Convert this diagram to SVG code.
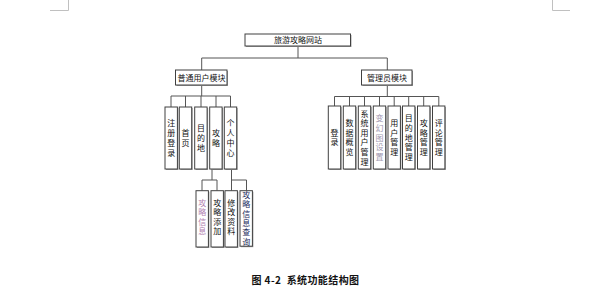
<svg xmlns="http://www.w3.org/2000/svg" width="598" height="300" viewBox="0 0 598 300">
<style>
.bx{fill:#fff;stroke:#404040;stroke-width:1}
.sh{fill:#a0a0a0}
.t{font-family:"Noto Sans CJK SC","Liberation Sans",sans-serif;font-size:8px;fill:#111;text-anchor:middle}
.ln{fill:none;stroke:#555;stroke-width:1}
.mk{fill:none;stroke:#c0c0c0;stroke-width:1}
.cap{font-family:"Noto Sans CJK SC","Liberation Sans",sans-serif;font-size:10px;fill:#111;text-anchor:middle;font-weight:bold;letter-spacing:0.4px}
</style>
<rect width="598" height="300" fill="#fff"/>
<g id="marks">
<path class="mk" d="M68.5 0V10.5H50M552.5 0V10.5H570"/>
</g>
<g id="connectors">
<path class="ln" d="M298 46V58M201.7 58H387.3M201.7 58V70M387.3 58V70"/>
<path class="ln" d="M201.7 85V96M171 96H230.5M171 96V107M185.5 96V107M201 96V107M216 96V107M230.5 96V107"/>
<path class="ln" d="M387.3 85V96.5M334.5 96.5H438.8M334.5 96.5V106M349.5 96.5V106M364.5 96.5V106M379.5 96.5V106M394.2 96.5V106M408.7 96.5V106M423.7 96.5V106M438.8 96.5V106"/>
<path class="ln" d="M212 169V180M202 180H217M202 180V190.7M217 180V190.7"/>
<path class="ln" d="M231.5 169V180H246.5M231.5 180V190.7M246.5 180V190.7"/>
</g>
<g id="root">
<rect class="sh" x="246" y="35" width="105.5" height="12"/>
<rect class="bx" x="245" y="34" width="105.5" height="12"/>
<text class="t" x="298" y="43">旅游攻略网站</text>
</g>
<g id="user">
<rect class="sh" x="176.5" y="71" width="51.5" height="15"/>
<rect class="bx" x="175.5" y="70" width="51.5" height="15"/>
<text class="t" x="201.5" y="80.5">普通用户模块</text>
</g>
<g id="admin">
<rect class="sh" x="362.5" y="71" width="50.5" height="15"/>
<rect class="bx" x="361.5" y="70" width="50.5" height="15"/>
<text class="t" x="387" y="80.5">管理员模块</text>
</g>
<g id="u1">
<rect class="sh" x="166" y="108" width="12.4" height="62"/>
<rect class="bx" x="165" y="107" width="12.4" height="62"/>
<text class="t" x="171.2 171.2 171.2 171.2" y="126 136 146 156">注册登录</text>
</g>
<g id="u2">
<rect class="sh" x="180.3" y="108" width="12.4" height="62"/>
<rect class="bx" x="179.3" y="107" width="12.4" height="62"/>
<text class="t" x="185.5 185.5" y="136 146">首页</text>
</g>
<g id="u3">
<rect class="sh" x="195.7" y="108" width="12.4" height="62"/>
<rect class="bx" x="194.7" y="107" width="12.4" height="62"/>
<text class="t" x="200.9 200.9 200.9" y="131 141 151">目的地</text>
</g>
<g id="u4">
<rect class="sh" x="210.7" y="108" width="12.4" height="62"/>
<rect class="bx" x="209.7" y="107" width="12.4" height="62"/>
<text class="t" x="215.9 215.9" y="136 146">攻略</text>
</g>
<g id="u5">
<rect class="sh" x="225.3" y="108" width="12.4" height="62"/>
<rect class="bx" x="224.3" y="107" width="12.4" height="62"/>
<text class="t" x="230.5 230.5 230.5 230.5" y="126 136 146 156">个人中心</text>
</g>
<g id="s1">
<rect class="sh" x="197" y="191.7" width="12.4" height="56.3"/>
<rect class="bx" x="196" y="190.7" width="12.4" height="56.3"/>
<text class="t" x="202.2 202.2 202.2 202.2" y="206 215.3 224.6 234" style="fill:#b080b0">攻略信息</text>
</g>
<g id="s2">
<rect class="sh" x="212" y="191.7" width="12.4" height="56.3"/>
<rect class="bx" x="211" y="190.7" width="12.4" height="56.3"/>
<text class="t" x="217.2 217.2 217.2 217.2" y="206 215.3 224.6 234">攻略添加</text>
</g>
<g id="s3">
<rect class="sh" x="226" y="191.7" width="12.4" height="56.3"/>
<rect class="bx" x="225" y="190.7" width="12.4" height="56.3"/>
<text class="t" x="231.2 231.2 231.2 231.2" y="206 215.3 224.6 234">修改资料</text>
</g>
<g id="s4">
<rect class="sh" x="241" y="191.7" width="12.4" height="55.5"/>
<rect class="bx" x="240" y="190.7" width="12.4" height="55.5"/>
<text class="t" x="246.2 246.2 246.2 246.2 246.2 246.2" y="198 207.3 216.6 225.9 235.2 244.5" style="fill:#1a2a5a">攻略信息查询</text>
</g>
<g id="a1">
<rect class="sh" x="329.3" y="107" width="12.4" height="63"/>
<rect class="bx" x="328.3" y="106" width="12.4" height="63"/>
<text class="t" x="334.5 334.5" y="135.7 145.3">登录</text>
</g>
<g id="a2">
<rect class="sh" x="344.3" y="107" width="12.4" height="63"/>
<rect class="bx" x="343.3" y="106" width="12.4" height="63"/>
<text class="t" x="349.5 349.5 349.5 349.5" y="126.1 135.7 145.3 154.9">数据概览</text>
</g>
<g id="a3">
<rect class="sh" x="359.3" y="107" width="12.4" height="63"/>
<rect class="bx" x="358.3" y="106" width="12.4" height="63"/>
<text class="t" x="364.5 364.5 364.5 364.5 364.5 364.5" y="116.5 126.1 135.7 145.3 154.9 164.5">系统用户管理</text>
</g>
<g id="a4">
<rect class="sh" x="374.3" y="107" width="12.4" height="63"/>
<rect class="bx" x="373.3" y="106" width="12.4" height="63"/>
<text class="t" x="379.5 379.5 379.5 379.5 379.5" y="121.3 130.9 140.5 150.1 159.7" style="fill:#a098b0">变幻图设置</text>
</g>
<g id="a5">
<rect class="sh" x="389" y="107" width="12.4" height="63"/>
<rect class="bx" x="388" y="106" width="12.4" height="63"/>
<text class="t" x="394.2 394.2 394.2 394.2" y="126.1 135.7 145.3 154.9">用户管理</text>
</g>
<g id="a6">
<rect class="sh" x="403.5" y="107" width="12.4" height="63"/>
<rect class="bx" x="402.5" y="106" width="12.4" height="63"/>
<text class="t" x="408.7 408.7 408.7 408.7 408.7" y="121.3 130.9 140.5 150.1 159.7">目的地管理</text>
</g>
<g id="a7">
<rect class="sh" x="418.5" y="107" width="12.4" height="63"/>
<rect class="bx" x="417.5" y="106" width="12.4" height="63"/>
<text class="t" x="423.7 423.7 423.7 423.7" y="126.1 135.7 145.3 154.9">攻略管理</text>
</g>
<g id="a8">
<rect class="sh" x="433.5" y="107" width="12.4" height="63"/>
<rect class="bx" x="432.5" y="106" width="12.4" height="63"/>
<text class="t" x="438.7 438.7 438.7 438.7" y="126.1 135.7 145.3 154.9">评论管理</text>
</g>
<text class="cap" x="305.5" y="284" xml:space="preserve">图 4-2  系统功能结构图</text>
</svg>
